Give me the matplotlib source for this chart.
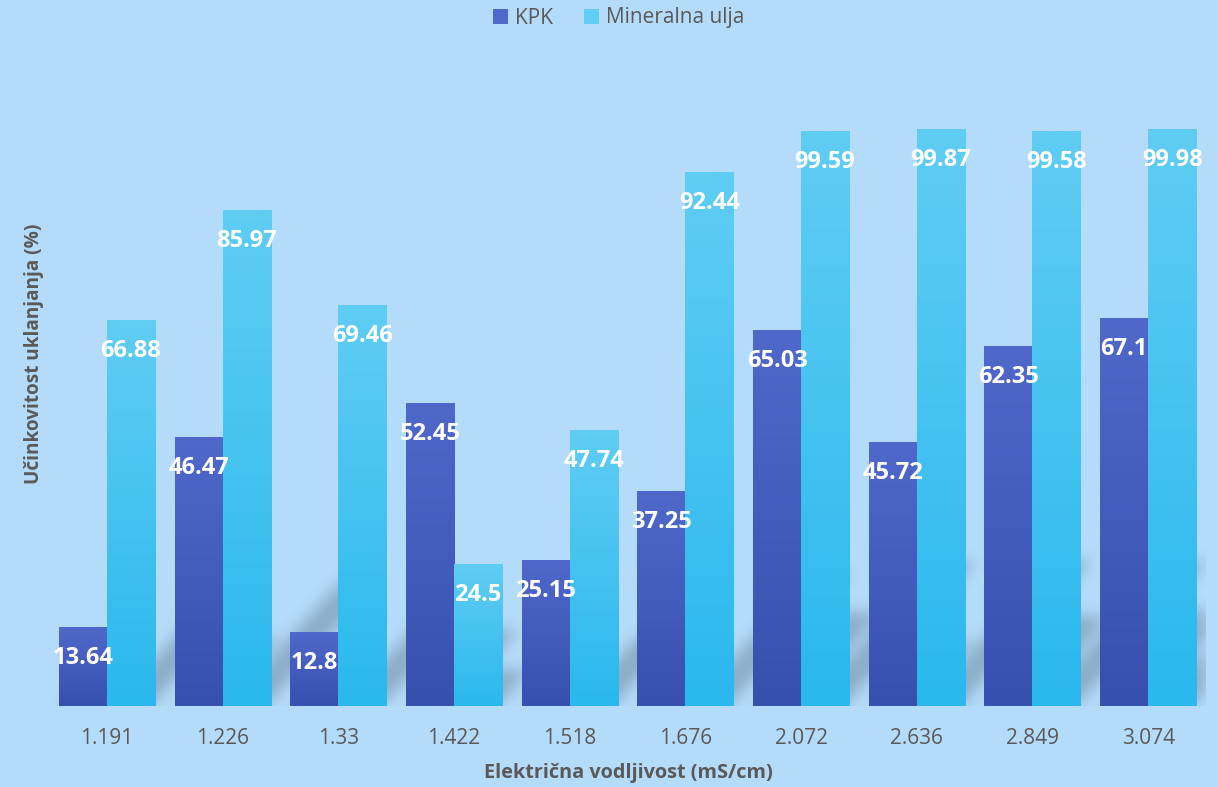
import numpy as np
import matplotlib
matplotlib.use("Agg")
import matplotlib.pyplot as plt
from matplotlib.colors import LinearSegmentedColormap, to_rgb

# conductivity categories and removal efficiencies
conductivity = ["1.191", "1.226", "1.33", "1.422", "1.518", "1.676", "2.072", "2.636", "2.849", "3.074"]
kpk = [13.64, 46.47, 12.8, 52.45, 25.15, 37.25, 65.03, 45.72, 62.35, 67.1]
mineral_oil = [66.88, 85.97, 69.46, 24.5, 47.74, 92.44, 99.59, 99.87, 99.58, 99.98]
series_names = ["KPK", "Mineralna ulja"]

BG = "#B4DBF9"
TEXT = "#595959"
KPK_TOP, KPK_BOT = "#5068C9", "#374FAF"
MIN_TOP, MIN_BOT = "#60CDF3", "#2AB8EE"

W_PX, H_PX = 1217, 787
fig = plt.figure(figsize=(W_PX / 100, H_PX / 100), dpi=100, facecolor=BG)

# plot area in pixels: left 49, right 1206, baseline 706, top 46
ax = fig.add_axes([49 / W_PX, 81 / H_PX, (1206 - 49) / W_PX, (706 - 46) / H_PX])
ax.set_facecolor(BG)
ymax = 114.4
n = len(conductivity)
x = np.arange(n)
width = 0.415


def gaussian_blur(img, sigma):
    r = int(3 * sigma)
    k = np.exp(-0.5 * (np.arange(-r, r + 1) / sigma) ** 2)
    k /= k.sum()
    img = np.apply_along_axis(lambda v: np.convolve(v, k, mode="same"), 0, img)
    img = np.apply_along_axis(lambda v: np.convolve(v, k, mode="same"), 1, img)
    return img


# soft perspective shadow cast by each bar onto the floor
px_per_x = (1206 - 49) / n
px_per_y = (706 - 46) / ymax
cols = int(n * px_per_x)
rows = int(ymax * px_per_y)
cc, rr = np.meshgrid(np.arange(cols), np.arange(rows))
mask = np.zeros((rows, cols))
slope, scale, inset = 1.1, 0.25, 5
for offset, vals in ((-width / 2, kpk), (width / 2, mineral_oil)):
    for xi, v in zip(x, vals):
        xl = (xi + offset - width / 2 + 0.5) * px_per_x + inset
        xr = (xi + offset + width / 2 + 0.5) * px_per_x - inset
        hp = v * px_per_y * scale
        shifted = cc - rr / slope
        mask[(rr <= hp) & (shifted >= xl) & (shifted <= xr)] = 1.0
mask = gaussian_blur(mask, 7)
shadow = np.zeros((rows, cols, 4))
shadow[..., :3] = np.array([70, 90, 110]) / 255
shadow[..., 3] = np.clip(mask, 0, 1) * 0.36
ax.imshow(shadow, extent=[-0.5, n - 0.5, 0, ymax], origin="lower",
          aspect="auto", zorder=1, interpolation="bilinear")


def gradient_bars(xs, vals, top, bottom, label):
    bars = ax.bar(xs, vals, width, color=bottom, label=label, zorder=2)
    cmap = LinearSegmentedColormap.from_list(label, [to_rgb(bottom), to_rgb(top)])
    grad = np.linspace(0, 1, 256).reshape(-1, 1)
    for b in bars:
        x0, h = b.get_x(), b.get_height()
        ax.imshow(grad, cmap=cmap, extent=[x0, x0 + width, 0, h], origin="lower",
                  aspect="auto", zorder=2.5)
    for xi, v in zip(xs, vals):
        ax.annotate(f"{v:g}", (xi, v), xytext=(0, -22), textcoords="offset points",
                    ha="center", va="center", color="white", fontsize=17,
                    fontweight="bold", fontfamily="Open Sans", zorder=4)
    return bars


gradient_bars(x - width / 2, kpk, KPK_TOP, KPK_BOT, series_names[0])
gradient_bars(x + width / 2, mineral_oil, MIN_TOP, MIN_BOT, series_names[1])

ax.set_xlim(-0.5, n - 0.5)
ax.set_ylim(0, ymax)
ax.set_xticks(x)
ax.set_xticklabels(conductivity, fontsize=15, color=TEXT, fontfamily="Open Sans")
ax.tick_params(axis="x", length=0, pad=16)
ax.set_yticks([])
for s in ax.spines.values():
    s.set_visible(False)

leg = fig.legend(loc="center", bbox_to_anchor=(619 / W_PX, 1 - 18 / H_PX), ncol=2,
                 frameon=False, handlelength=0.7, handleheight=0.7,
                 handletextpad=0.35, columnspacing=1.5,
                 prop={"family": "Open Sans", "size": 15})
for t in leg.get_texts():
    t.set_color(TEXT)
leg.legend_handles[0].set_facecolor(KPK_TOP)
leg.legend_handles[1].set_facecolor(MIN_TOP)

fig.text(34 / W_PX, 1 - 354 / H_PX, "Učinkovitost uklanjanja (%)", rotation=90,
         ha="center", va="center", fontsize=13.7, fontweight="bold", color=TEXT,
         fontfamily="Open Sans")
fig.text(628 / W_PX, 1 - 773 / H_PX, "Električna vodljivost (mS/cm)",
         ha="center", va="center", fontsize=14.3, fontweight="bold", color=TEXT,
         fontfamily="Open Sans")

fig.savefig("out.png", dpi=100, facecolor=BG)
